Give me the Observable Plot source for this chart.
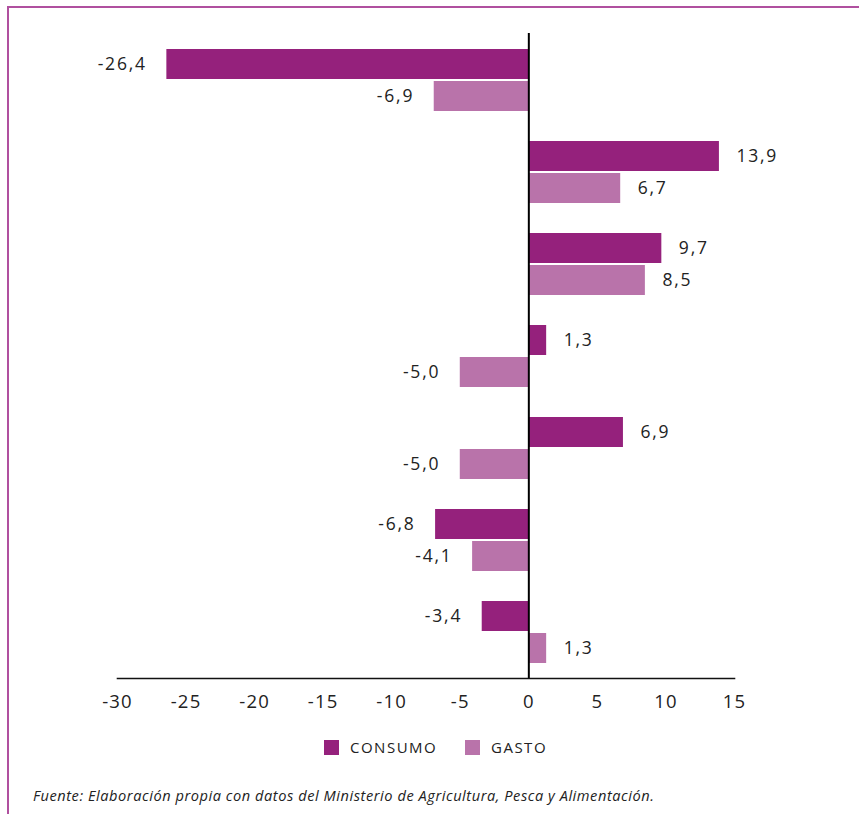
<!DOCTYPE html>
<html>
<head>
<meta charset="utf-8">
<script src="https://cdn.jsdelivr.net/npm/d3@7"></script>
<script src="https://cdn.jsdelivr.net/npm/@observablehq/plot@0.6"></script>
<style>
  html, body { margin: 0; padding: 0; background: #fff; }
  body { width: 859px; height: 814px; position: relative; overflow: hidden; font-family: "Open Sans", Roboto, sans-serif; }
  #frame { position: absolute; left: 7px; top: 6px; right: -10px; bottom: -10px; border-top: 2px solid #b0509f; border-left: 2px solid #b0509f; }
  #chart { position: absolute; left: 0; top: 0; }
  #chart svg .val text { letter-spacing: 1.8px; }
  #chart svg .xax text { letter-spacing: 1.2px; }
  .legend { position: absolute; top: 737px; display: flex; align-items: center; font-size: 15px; color: #222; letter-spacing: 1.5px; }
  .sw { display: inline-block; width: 15px; height: 15px; margin-right: 11px; }
  #caption { position: absolute; left: 33px; top: 785px; font-size: 14.6px; font-style: italic; color: #222; letter-spacing: 0.55px; white-space: nowrap; }
</style>
</head>
<body>
<div id="frame"></div>
<div id="chart"></div>
<div id="legend"></div>
<div id="caption">Fuente: Elaboración propia con datos del Ministerio de Agricultura, Pesca y Alimentación.</div>
<script>
const categories = ["1", "2", "3", "4", "5", "6", "7"];
const seriesNames = ["CONSUMO", "GASTO"];
const seriesColors = ["#95217c", "#b973aa"];
const consumo = [-26.4, 13.9, 9.7, 1.3, 6.9, -6.8, -3.4];
const gasto = [-6.9, 6.7, 8.5, -5.0, -5.0, -4.1, 1.3];
const xTicks = [-30, -25, -20, -15, -10, -5, 0, 5, 10, 15];

const rowsC = categories.map((c, i) => ({cat: c, v: consumo[i]}));
const rowsG = categories.map((c, i) => ({cat: c, v: gasto[i]}));
const fmt = v => v.toFixed(1).replace(".", ",");

function labels(rows, dy) {
  return [
    Plot.text(rows.filter(d => d.v >= 0), {x: "v", y: "cat", text: d => fmt(d.v), dy, dx: 17, textAnchor: "start", fontSize: 17.5, fill: "#222", className: "val"}),
    Plot.text(rows.filter(d => d.v < 0), {x: "v", y: "cat", text: d => fmt(d.v), dy, dx: -20, textAnchor: "end", fontSize: 17.5, fill: "#222", className: "val"})
  ];
}

const plot = Plot.plot({
  width: 859,
  height: 730,
  marginTop: 33,
  marginBottom: 52,
  marginLeft: 117,
  marginRight: 125,
  style: {fontFamily: "'Open Sans', Roboto, sans-serif", background: "transparent"},
  x: {domain: [-30, 15], label: null},
  y: {domain: categories, paddingInner: 0.327, paddingOuter: 0.1625, axis: null},
  marks: [
    Plot.barX(rowsC, {x: "v", y: "cat", fill: seriesColors[0], insetBottom: 32}),
    Plot.barX(rowsG, {x: "v", y: "cat", fill: seriesColors[1], insetTop: 32}),
    ...labels(rowsC, -16),
    ...labels(rowsG, 16),
    Plot.ruleX([0], {stroke: "#000", strokeWidth: 2}),
    Plot.frame({anchor: "bottom", stroke: "#111", strokeWidth: 1.6}),
    Plot.axisX({ticks: xTicks, tickSize: 0, tickPadding: 16, tickFormat: d => String(d), fontSize: 18.5, fill: "#222", label: null, className: "xax"})
  ]
});
document.getElementById("chart").appendChild(plot);

const lg = document.getElementById("legend");
const lefts = [324, 465];
seriesNames.forEach((name, i) => {
  const item = document.createElement("div");
  item.className = "legend";
  item.style.left = lefts[i] + "px";
  item.innerHTML = `<span class="sw" style="background:${seriesColors[i]}"></span><span>${name}</span>`;
  lg.appendChild(item);
});
</script>
</body>
</html>
